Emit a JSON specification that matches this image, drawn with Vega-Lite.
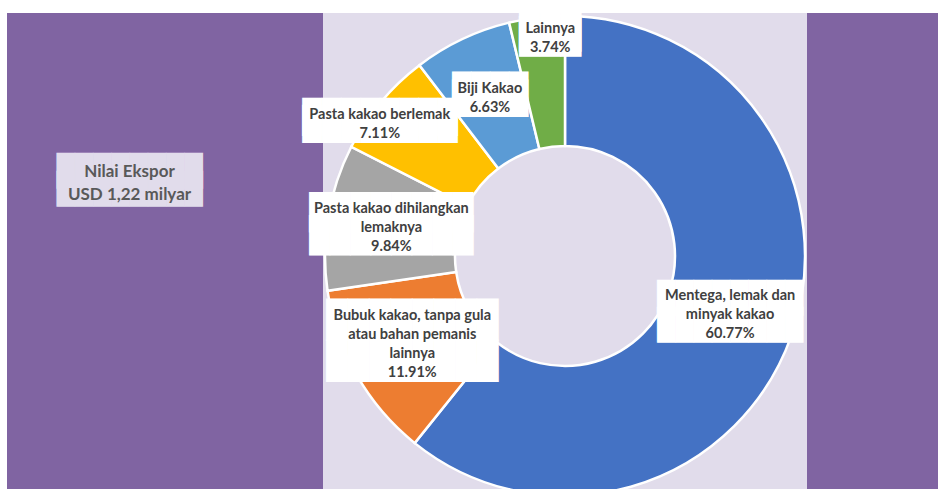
{
  "$schema": "https://vega.github.io/schema/vega-lite/v6.json",
  "background": "white",
  "padding": {"left": 7, "top": 11, "right": 0, "bottom": 0},
  "bounds": "flush",
  "spacing": 0,
  "config": {"view": {"stroke": null}, "concat": {"spacing": 0}},
  "datasets": {
    "kakao": [
      {"kategori": "Mentega, lemak dan minyak kakao", "persen": 60.77, "label": "Mentega, lemak dan\nminyak kakao\n60.77%"},
      {"kategori": "Bubuk kakao, tanpa gula atau bahan pemanis lainnya", "persen": 11.91, "label": "Bubuk kakao, tanpa gula\natau bahan pemanis\nlainnya\n11.91%"},
      {"kategori": "Pasta kakao dihilangkan lemaknya", "persen": 9.84, "label": "Pasta kakao dihilangkan\nlemaknya\n9.84%"},
      {"kategori": "Pasta kakao berlemak", "persen": 7.11, "label": "Pasta kakao berlemak\n7.11%"},
      {"kategori": "Biji Kakao", "persen": 6.63, "label": "Biji Kakao\n6.63%"},
      {"kategori": "Lainnya", "persen": 3.74, "label": "Lainnya\n3.74%"}
    ],
    "judul": [{"teks": "Nilai Ekspor\nUSD 1,22 milyar"}]
  },
  "hconcat": [
    {
      "width": 316,
      "height": 478,
      "view": {"fill": "#8064A2", "stroke": null},
      "data": {"name": "judul"},
      "layer": [
        {
          "mark": {"type": "text", "text": "████████\n████████", "lineBreak": "\n", "font": "DejaVu Sans Mono", "fontSize": 30.3, "lineHeight": 17.7, "color": "#E1DCEB", "align": "center", "baseline": "middle", "x": 122.5, "y": 169.5, "dy": -10.7},
          "encoding": {}
        },
        {
          "mark": {"type": "text", "lineBreak": "\n", "font": "Lato", "fontWeight": "bold", "fontSize": 17, "lineHeight": 23, "color": "#595959", "align": "center", "baseline": "middle", "x": 122.5, "y": 169.5, "dy": -10.4},
          "encoding": {"text": {"field": "teks"}}
        }
      ]
    },
    {
      "width": 484,
      "height": 478,
      "view": {"fill": "#E1DCEB", "stroke": null},
      "data": {"name": "kakao"},
      "encoding": {
        "theta": {"field": "persen", "type": "quantitative", "stack": true},
        "order": {"field": "persen", "type": "quantitative", "sort": "descending"},
        "detail": {"field": "kategori"}
      },
      "layer": [
        {
          "mark": {"type": "arc", "outerRadius": 240, "innerRadius": 110, "stroke": "white", "strokeWidth": 2.5, "y": 243},
          "encoding": {
            "color": {
              "field": "kategori", "type": "nominal", "legend": null,
              "scale": {
                "domain": ["Mentega, lemak dan minyak kakao", "Bubuk kakao, tanpa gula atau bahan pemanis lainnya", "Pasta kakao dihilangkan lemaknya", "Pasta kakao berlemak", "Biji Kakao", "Lainnya"],
                "range": ["#4472C4", "#ED7D31", "#A5A5A5", "#FFC000", "#5B9BD5", "#70AD47"]
              }
            }
          }
        },
        {
          "mark": {"type": "text", "font": "DejaVu Sans Mono", "fontSize": 30.3, "lineHeight": 26.7, "lineBreak": "\n", "color": "white", "align": "center", "baseline": "middle", "radius": 175, "dy": -15.2, "y": 243},
          "encoding": {"text": {"condition": {"test": "datum.kategori === 'Mentega, lemak dan minyak kakao'", "value": "████████\n████████"}, "value": ""}}
        },
        {
          "mark": {"type": "text", "font": "Lato", "fontWeight": "bold", "fontSize": 14.5, "lineHeight": 19, "lineBreak": "\n", "color": "#404040", "align": "center", "baseline": "middle", "radius": 175, "dy": -18, "y": 243},
          "encoding": {"text": {"condition": {"test": "datum.kategori === 'Mentega, lemak dan minyak kakao'", "field": "label"}, "value": ""}}
        },
        {
          "mark": {"type": "text", "font": "DejaVu Sans Mono", "fontSize": 35.7, "lineHeight": 40.4, "lineBreak": "\n", "color": "white", "align": "center", "baseline": "middle", "radius": 176, "dy": -22.3, "y": 243},
          "encoding": {"text": {"condition": {"test": "datum.kategori === 'Bubuk kakao, tanpa gula atau bahan pemanis lainnya'", "value": "████████\n████████"}, "value": ""}}
        },
        {
          "mark": {"type": "text", "font": "Lato", "fontWeight": "bold", "fontSize": 14.5, "lineHeight": 19, "lineBreak": "\n", "color": "#404040", "align": "center", "baseline": "middle", "radius": 176, "dy": -27.5, "y": 243},
          "encoding": {"text": {"condition": {"test": "datum.kategori === 'Bubuk kakao, tanpa gula atau bahan pemanis lainnya'", "field": "label"}, "value": ""}}
        },
        {
          "mark": {"type": "text", "font": "DejaVu Sans Mono", "fontSize": 34.05, "lineHeight": 22.4, "lineBreak": "\n", "color": "white", "align": "center", "baseline": "middle", "radius": 176, "dy": -13.2, "y": 243},
          "encoding": {"text": {"condition": {"test": "datum.kategori === 'Pasta kakao dihilangkan lemaknya'", "value": "████████\n████████"}, "value": ""}}
        },
        {
          "mark": {"type": "text", "font": "Lato", "fontWeight": "bold", "fontSize": 14.5, "lineHeight": 19, "lineBreak": "\n", "color": "#404040", "align": "center", "baseline": "middle", "radius": 176, "dy": -18, "y": 243},
          "encoding": {"text": {"condition": {"test": "datum.kategori === 'Pasta kakao dihilangkan lemaknya'", "field": "label"}, "value": ""}}
        },
        {
          "mark": {"type": "text", "font": "DejaVu Sans Mono", "fontSize": 32.2, "lineHeight": 7.5, "lineBreak": "\n", "color": "white", "align": "center", "baseline": "middle", "radius": 227, "dx": -11, "dy": 7.3, "y": 243},
          "encoding": {"text": {"condition": {"test": "datum.kategori === 'Pasta kakao berlemak'", "value": "████████\n████████"}, "value": ""}}
        },
        {
          "mark": {"type": "text", "font": "Lato", "fontWeight": "bold", "fontSize": 14.5, "lineHeight": 19, "lineBreak": "\n", "color": "#404040", "align": "center", "baseline": "middle", "radius": 227, "dx": -11, "dy": 4.5, "y": 243},
          "encoding": {"text": {"condition": {"test": "datum.kategori === 'Pasta kakao berlemak'", "field": "label"}, "value": ""}}
        },
        {
          "mark": {"type": "text", "font": "DejaVu Sans Mono", "fontSize": 31.6, "lineHeight": 7.3, "lineBreak": "\n", "color": "white", "align": "center", "baseline": "middle", "radius": 175, "dy": -5.5, "y": 243},
          "encoding": {"text": {"condition": {"test": "datum.kategori === 'Biji Kakao'", "value": "████\n████"}, "value": ""}}
        },
        {
          "mark": {"type": "text", "font": "Lato", "fontWeight": "bold", "fontSize": 14.5, "lineHeight": 19, "lineBreak": "\n", "color": "#404040", "align": "center", "baseline": "middle", "radius": 175, "dy": -8.5, "y": 243},
          "encoding": {"text": {"condition": {"test": "datum.kategori === 'Biji Kakao'", "field": "label"}, "value": ""}}
        },
        {
          "mark": {"type": "text", "font": "DejaVu Sans Mono", "fontSize": 34.3, "lineHeight": 5.1, "lineBreak": "\n", "color": "white", "align": "center", "baseline": "middle", "radius": 220, "dx": 11, "dy": -4.6, "y": 243},
          "encoding": {"text": {"condition": {"test": "datum.kategori === 'Lainnya'", "value": "███\n███"}, "value": ""}}
        },
        {
          "mark": {"type": "text", "font": "Lato", "fontWeight": "bold", "fontSize": 14.5, "lineHeight": 19, "lineBreak": "\n", "color": "#404040", "align": "center", "baseline": "middle", "radius": 220, "dx": 11, "dy": -8.5, "y": 243},
          "encoding": {"text": {"condition": {"test": "datum.kategori === 'Lainnya'", "field": "label"}, "value": ""}}
        }
      ]
    },
    {
      "width": 131,
      "height": 478,
      "view": {"fill": "#8064A2", "stroke": null},
      "data": {"values": [{}]},
      "mark": {"type": "text", "text": ""},
      "encoding": {}
    }
  ]
}
